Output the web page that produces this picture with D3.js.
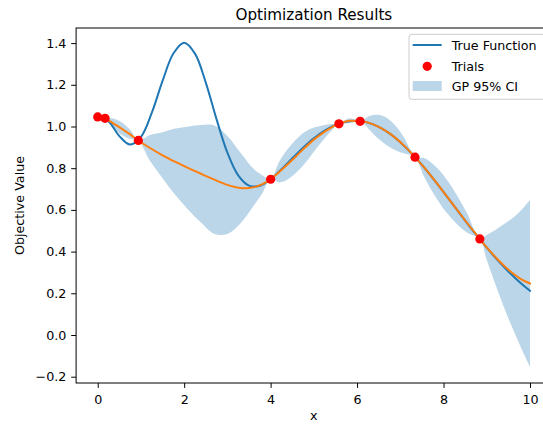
<!DOCTYPE html>
<html>
<head>
<meta charset="utf-8">
<script src="https://cdn.jsdelivr.net/npm/d3@7"></script>
<style>
  html, body { margin: 0; padding: 0; background: #ffffff; overflow: hidden; }
  svg { display: block; font-family: "DejaVu Sans", sans-serif; }
</style>
</head>
<body>
<svg id="chart" width="543" height="424"></svg>
<script>
// True objective, sampled along x
const trueX = [0, 0.25, 0.5, 0.75, 1, 1.25, 1.5, 1.75, 2, 2.25, 2.5, 2.75, 3, 3.25, 3.5, 3.75, 4,
  4.25, 4.5, 4.75, 5, 5.25, 5.5, 5.75, 6, 6.25, 6.5, 6.75, 7, 7.25, 7.5, 7.75, 8, 8.25, 8.5, 8.75,
  9, 9.25, 9.5, 9.75, 10];
const trueY = [1.0456, 1.0246, 0.9540, 0.9132, 0.9500, 1.0648, 1.2185, 1.3498, 1.4019, 1.3494,
  1.2105, 1.0343, 0.8744, 0.7655, 0.7161, 0.7159, 0.7475, 0.7950, 0.8475, 0.8983, 0.9434, 0.9803,
  1.0073, 1.0231, 1.0270, 1.0187, 0.9984, 0.9668, 0.9248, 0.8740, 0.8160, 0.7526, 0.6857, 0.6173,
  0.5489, 0.4823, 0.4188, 0.3593, 0.3047, 0.2555, 0.2118];

// Evaluated trials
const trialX = [0, 0.17, 0.94, 4.0, 5.58, 6.07, 7.34, 8.84];
const trialY = [1.046, 1.039, 0.933, 0.747, 1.013, 1.025, 0.853, 0.461];

// Gaussian-process posterior: mean and 95% interval
const gpX = [0, 0.17, 0.35, 0.55, 0.75, 0.94, 1.2, 1.5, 1.8, 2.1, 2.4, 2.7, 3.0, 3.3, 3.6, 3.8, 4.0,
  4.2, 4.4, 4.6, 4.8, 5.0, 5.2, 5.4, 5.58, 5.82, 6.07, 6.3, 6.5, 6.7, 6.9, 7.1, 7.34,
  7.55, 7.8, 8.05, 8.3, 8.55, 8.84, 9.0, 9.2, 9.4, 9.6, 9.8, 10];
const gpMean = [1.046, 1.039, 1.016, 0.990, 0.962, 0.933, 0.898, 0.862, 0.830, 0.800, 0.772, 0.745,
  0.720, 0.705, 0.708, 0.722, 0.747, 0.782, 0.820, 0.860, 0.900, 0.937, 0.968, 0.995, 1.013, 1.027,
  1.025, 1.016, 0.998, 0.974, 0.943, 0.906, 0.853, 0.804, 0.740, 0.672, 0.604, 0.536, 0.461,
  0.420, 0.374, 0.332, 0.296, 0.267, 0.247];
const gpLower = [1.046, 1.039, 0.994, 0.960, 0.940, 0.933, 0.838, 0.752, 0.670, 0.600, 0.537, 0.485,
  0.485, 0.535, 0.618, 0.677, 0.747, 0.732, 0.747, 0.780, 0.825, 0.879, 0.931, 0.978, 1.013, 1.015,
  1.025, 0.981, 0.940, 0.908, 0.885, 0.870, 0.853, 0.759, 0.668, 0.592, 0.534, 0.491, 0.461,
  0.360, 0.244, 0.132, 0.031, -0.065, -0.153];
const gpUpper = [1.046, 1.039, 1.038, 1.020, 0.984, 0.933, 0.958, 0.972, 0.990, 1.000, 1.007, 1.005,
  0.955, 0.875, 0.798, 0.767, 0.747, 0.832, 0.893, 0.940, 0.975, 0.995, 1.005, 1.012, 1.013, 1.039,
  1.025, 1.051, 1.056, 1.040, 1.001, 0.942, 0.853, 0.849, 0.812, 0.752, 0.674, 0.581, 0.461,
  0.480, 0.504, 0.532, 0.561, 0.599, 0.647];

const xTicks = [0, 2, 4, 6, 8, 10];
const yTicks = [-0.2, 0.0, 0.2, 0.4, 0.6, 0.8, 1.0, 1.2, 1.4];

const titleText = "Optimization Results";
const xLabel = "x";
const yLabel = "Objective Value";
const legendLabels = ["True Function", "Trials", "GP 95% CI"];

const colors = { truth: "#1f77b4", mean: "#ff7f0e", trials: "#ff0000", band: "#1f77b4" };

// Plot frame
const frame = { left: 76.1, right: 551.6, top: 28, bottom: 383 };
const svg = d3.select("#chart");

const x = d3.scaleLinear().domain([-0.5, 10.5]).range([frame.left, frame.right]);
const y = d3.scaleLinear().domain([-0.2302, 1.4724]).range([frame.bottom, frame.top]);

const clipId = "plot-clip";
svg.append("defs").append("clipPath").attr("id", clipId)
  .append("rect")
  .attr("x", frame.left).attr("y", frame.top)
  .attr("width", frame.right - frame.left).attr("height", frame.bottom - frame.top);

const plot = svg.append("g").attr("clip-path", `url(#${clipId})`);

// Confidence band
const bandData = gpX.map((v, i) => ({ x: v, lo: gpLower[i], hi: gpUpper[i] }));
plot.append("path")
  .datum(bandData)
  .attr("fill", colors.band)
  .attr("fill-opacity", 0.3)
  .attr("stroke", "none")
  .attr("d", d3.area()
    .x(d => x(d.x)).y0(d => y(d.lo)).y1(d => y(d.hi))
    .curve(d3.curveCatmullRom.alpha(0.5)));

// True function
const trueData = trueX.map((v, i) => ({ x: v, y: trueY[i] }));
plot.append("path")
  .datum(trueData)
  .attr("fill", "none")
  .attr("stroke", colors.truth)
  .attr("stroke-width", 2)
  .attr("stroke-linejoin", "round")
  .attr("stroke-linecap", "square")
  .attr("d", d3.line().x(d => x(d.x)).y(d => y(d.y)).curve(d3.curveCatmullRom.alpha(0.5)));

// Posterior mean
const meanData = gpX.map((v, i) => ({ x: v, y: gpMean[i] }));
plot.append("path")
  .datum(meanData)
  .attr("fill", "none")
  .attr("stroke", colors.mean)
  .attr("stroke-width", 2)
  .attr("stroke-linejoin", "round")
  .attr("stroke-linecap", "square")
  .attr("d", d3.line().x(d => x(d.x)).y(d => y(d.y)).curve(d3.curveCatmullRom.alpha(0.5)));

// Trials
plot.selectAll("circle.trial")
  .data(trialX.map((v, i) => ({ x: v, y: trialY[i] })))
  .join("circle")
  .attr("class", "trial")
  .attr("cx", d => x(d.x))
  .attr("cy", d => y(d.y))
  .attr("r", 4.6)
  .attr("fill", colors.trials);

// Axes
const fmt = d => d3.format(".1f")(d).replace("-", "\u2212");
const xAxis = svg.append("g")
  .attr("transform", `translate(0,${frame.bottom})`)
  .call(d3.axisBottom(x).tickValues(xTicks).tickFormat(d3.format("d")).tickSize(4.9).tickPadding(7.3));
const yAxis = svg.append("g")
  .attr("transform", `translate(${frame.left},0)`)
  .call(d3.axisLeft(y).tickValues(yTicks).tickFormat(fmt).tickSize(4.9).tickPadding(4.8));

[xAxis, yAxis].forEach(g => {
  g.select(".domain").remove();
  g.selectAll(".tick line").attr("stroke", "#000").attr("stroke-width", 1);
  g.selectAll(".tick text")
    .attr("fill", "#000")
    .style("font-family", "'DejaVu Sans', sans-serif")
    .style("font-size", "12.7px");
});

// Spines
svg.append("rect")
  .attr("x", frame.left).attr("y", frame.top)
  .attr("width", frame.right - frame.left).attr("height", frame.bottom - frame.top)
  .attr("fill", "none").attr("stroke", "#000").attr("stroke-width", 1);

// Title and axis labels
svg.append("text")
  .attr("x", (frame.left + frame.right) / 2).attr("y", 19.5)
  .attr("text-anchor", "middle")
  .style("font-size", "15.2px")
  .attr("fill", "#000")
  .text(titleText);

svg.append("text")
  .attr("x", (frame.left + frame.right) / 2).attr("y", 420)
  .attr("text-anchor", "middle")
  .style("font-size", "12.7px")
  .attr("fill", "#000")
  .text(xLabel);

svg.append("text")
  .attr("transform", `translate(24,${(frame.top + frame.bottom) / 2}) rotate(-90)`)
  .attr("text-anchor", "middle")
  .style("font-size", "12.7px")
  .attr("fill", "#000")
  .text(yLabel);

// Legend
const legend = svg.append("g");
legend.append("rect")
  .attr("x", 409).attr("y", 34.3)
  .attr("width", 136).attr("height", 65)
  .attr("rx", 3).attr("ry", 3)
  .attr("fill", "#ffffff").attr("fill-opacity", 0.8)
  .attr("stroke", "#cccccc").attr("stroke-width", 1);

const rows = [45, 66.3, 86];
legend.append("line")
  .attr("x1", 412.7).attr("x2", 441.7)
  .attr("y1", rows[0]).attr("y2", rows[0])
  .attr("stroke", colors.truth).attr("stroke-width", 2);
legend.append("circle")
  .attr("cx", 427.2).attr("cy", rows[1]).attr("r", 4.6)
  .attr("fill", colors.trials);
legend.append("rect")
  .attr("x", 412.7).attr("y", rows[2] - 5)
  .attr("width", 29).attr("height", 10)
  .attr("fill", colors.band).attr("fill-opacity", 0.3);

legend.selectAll("text.lbl")
  .data(legendLabels)
  .join("text")
  .attr("class", "lbl")
  .attr("x", 451.7)
  .attr("y", (d, i) => rows[i] + 4.7)
  .style("font-size", "12.7px")
  .attr("fill", "#000")
  .text(d => d);
</script>
</body>
</html>
